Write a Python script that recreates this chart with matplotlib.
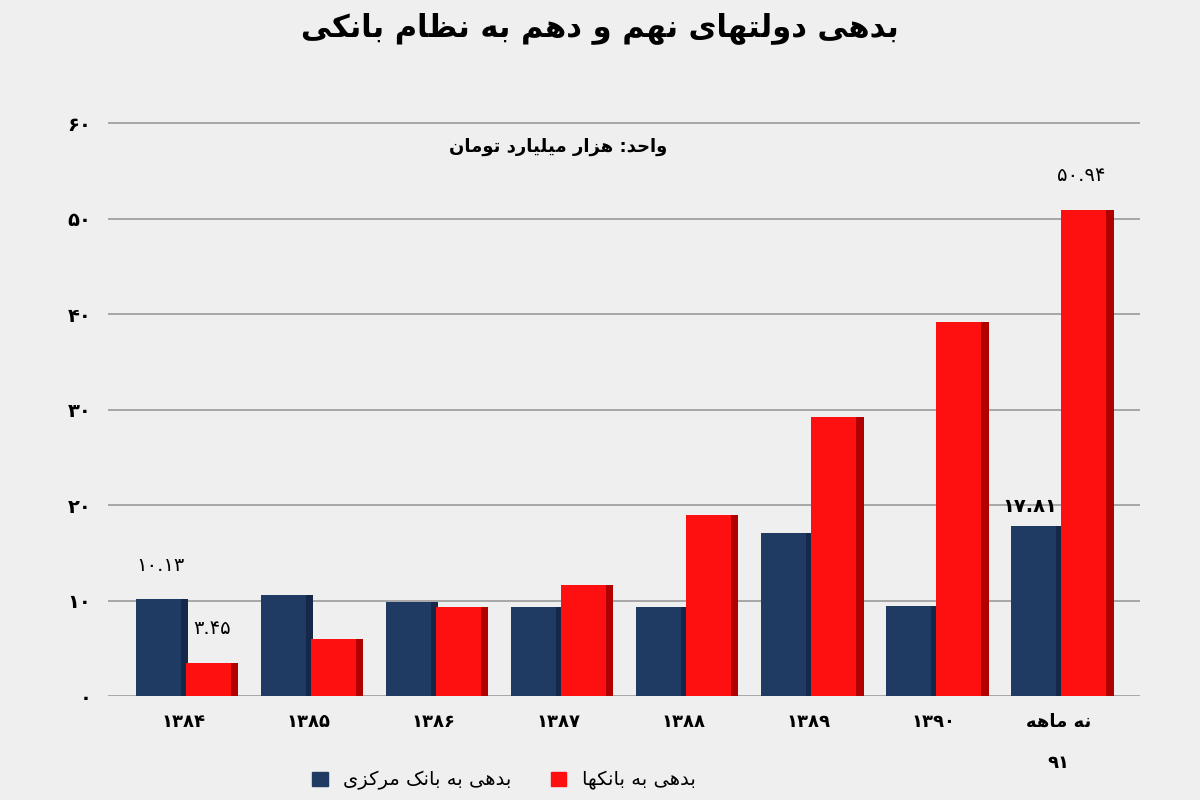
import matplotlib
matplotlib.use("Agg")
import matplotlib.pyplot as plt
import numpy as np
import re

plt.rcParams['font.family'] = ['DejaVu Sans']

FORMS = {
 'ا': ('\uFE8D','\uFE8E',None,None), 'ب': ('\uFE8F','\uFE90','\uFE91','\uFE92'),
 'ت': ('\uFE95','\uFE96','\uFE97','\uFE98'), 'ح': ('\uFEA1','\uFEA2','\uFEA3','\uFEA4'),
 'د': ('\uFEA9','\uFEAA',None,None), 'ر': ('\uFEAD','\uFEAE',None,None),
 'ز': ('\uFEAF','\uFEB0',None,None), 'ظ': ('\uFEC5','\uFEC6','\uFEC7','\uFEC8'),
 'ل': ('\uFEDD','\uFEDE','\uFEDF','\uFEE0'), 'م': ('\uFEE1','\uFEE2','\uFEE3','\uFEE4'),
 'ن': ('\uFEE5','\uFEE6','\uFEE7','\uFEE8'), 'ه': ('\uFEE9','\uFEEA','\uFEEB','\uFEEC'),
 'و': ('\uFEED','\uFEEE',None,None), 'ی': ('\uFBFC','\uFBFD','\uFBFE','\uFBFF'),
 'ک': ('\uFB8E','\uFB8F','\uFB90','\uFB91'),
}
def dual(c):
    return c in FORMS and FORMS[c][2] is not None

def fa(s):
    out = []
    for i, c in enumerate(s):
        if c not in FORMS:
            out.append(c); continue
        prev = s[i-1] if i > 0 else ''
        nxt = s[i+1] if i+1 < len(s) else ''
        jp = dual(prev)
        jn = dual(c) and nxt in FORMS
        f = FORMS[c]
        if jp and jn: out.append(f[3])
        elif jp: out.append(f[1])
        elif jn: out.append(f[2])
        else: out.append(f[0])
    r = ''.join(out)[::-1]
    # keep digit runs left-to-right
    return re.sub(r'[0-9\u06F0-\u06F9\u0660-\u0669.]+', lambda m: m.group(0)[::-1], r)

years = ['۱۳۸۴', '۱۳۸۵', '۱۳۸۶', '۱۳۸۷', '۱۳۸۸', '۱۳۸۹', '۱۳۹۰', 'نه ماهه\n۹۱']
central_bank = [10.13, 10.6, 9.8, 9.3, 9.3, 17.1, 9.4, 17.81]
banks = [3.45, 6.0, 9.3, 11.6, 19.0, 29.2, 39.2, 50.94]
yticks = [0, 10, 20, 30, 40, 50, 60]
ytick_labels = ['٠', '۱۰', '۲۰', '۳۰', '۴۰', '۵۰', '۶۰']

fig = plt.figure(figsize=(12, 8), dpi=100, facecolor='#efefef')
ax = fig.add_axes([0.09, 0.13, 0.86, 0.74])
ax.set_facecolor('#efefef')
x = np.arange(len(years))
w = 0.36
def draw(xs, vals, face, side):
    ax.bar(xs, vals, w, color=face, zorder=3)
    ax.bar(xs + w/2 + 0.03, vals, 0.06, color=side, zorder=2)
draw(x - w/2 - 0.02, central_bank, '#1f3a63', '#15284a')
draw(x + w/2 + 0.02, banks, '#ff1010', '#b00000')

ax.set_ylim(0, 62)
ax.set_xlim(-0.6, len(years) - 0.35)
ax.set_yticks(yticks)
ax.set_yticklabels(ytick_labels, fontsize=14, fontweight='bold')
ax.set_xticks(x)
labs = []
for l in years:
    parts = l.split('\n')
    labs.append(fa(parts[0]) + ('\n\n' + parts[1] if len(parts) > 1 else ''))
ax.set_xticklabels(labs, fontsize=13, fontweight='bold')
ax.yaxis.grid(True, color='#9a9a9a', lw=1.2, zorder=0)
for s in ax.spines.values():
    s.set_visible(False)
ax.tick_params(length=0, pad=12)

ax.text(x[0] - w/2, central_bank[0] + 3, '۱۰.۱۳', ha='center', fontsize=14)
ax.text(x[0] + w/2 + 0.05, banks[0] + 3, '۳.۴۵', ha='center', fontsize=14)
ax.text(x[-1] - w/2 - 0.05, central_bank[-1] + 1.5, '۱۷.۸۱', ha='center', fontsize=14, fontweight='bold')
ax.text(x[-1] + w/2, banks[-1] + 3, '۵۰.۹۴', ha='center', fontsize=14)
ax.text(3.0, 57, fa('واحد: هزار میلیارد تومان'), ha='center', fontsize=13, fontweight='bold')

fig.text(0.5, 0.955, fa('بدهی دولتهای نهم و دهم به نظام بانکی'), ha='center', fontsize=22, fontweight='bold')

from matplotlib.patches import Patch
handles = [Patch(color='#1f3a63'), Patch(color='#ff1010')]
fig.legend(handles, [fa('بدهی به بانک مرکزی'), fa('بدهی به بانکها')], loc='lower center',
           bbox_to_anchor=(0.42, -0.01), ncol=2, frameon=False, fontsize=14, handlelength=0.8)
fig.savefig('out.png', dpi=100, facecolor=fig.get_facecolor())
